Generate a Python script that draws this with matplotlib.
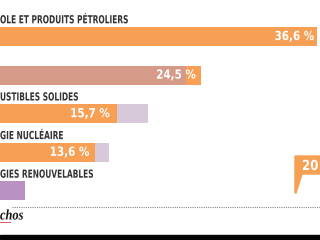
import matplotlib
matplotlib.use("Agg")
import matplotlib.pyplot as plt
from matplotlib.patches import Polygon, Rectangle
from matplotlib.patheffects import AbstractPathEffect
from matplotlib.transforms import Affine2D

# ---- data (bar lengths read from the frame, in % units) ----
labels = ["OLE ET PRODUITS PÉTROLIERS", "", "USTIBLES SOLIDES",
          "GIE NUCLÉAIRE", "GIES RENOUVELABLES"]
value_texts = ["36,6 %", "24,5 %", "15,7 %", "13,6 %", ""]
current = [36.6, 23.2, 13.5, 11.0, 0.0]      # orange bars
previous = [0.0, 21.5, 17.1, 12.6, 2.9]      # background bars
prev_colors = ["#f7a055", "#d59a88", "#d8c9da", "#d8c9da", "#b991c2"]
callout_text = "20"

ORANGE = "#f7a055"


class Condense(AbstractPathEffect):
    """Horizontally condense a text around a display-x origin."""
    def __init__(self, sx, x0):
        super().__init__()
        self.sx = sx
        self.x0 = x0

    def draw_path(self, renderer, gc, tpath, affine, rgbFace=None):
        t = affine + Affine2D().translate(-self.x0, 0).scale(self.sx, 1).translate(self.x0, 0)
        renderer.draw_path(gc, tpath, t, rgbFace)


fig = plt.figure(figsize=(3.2, 2.4), dpi=100)
ax = fig.add_axes([0, 0, 1, 1])
scale = 317 / 36.6  # px per unit
ax.set_xlim(0, 320 / scale)
y0, dy = 36.5, 38.6
ax.set_ylim((240 - y0) / dy, (0 - y0) / dy)
ax.axis("off")


def px2x(px):
    return px / scale


def py2y(py):
    return (py - y0) / dy


def disp_x(x, y):
    return ax.transData.transform((x, y))[0]


h = 19 / dy
fam = ["DejaVu Sans"]
pads = [3, 5, 7, 6, 5]
for i in range(len(labels)):
    if previous[i] > 0:
        ax.barh(i, previous[i], height=h, color=prev_colors[i], left=0, zorder=1)
    if current[i] > 0:
        ax.barh(i, current[i], height=h, color=ORANGE, zorder=0 if i == 1 else 2)
    if labels[i]:
        ax.text(0, i - 0.42, labels[i], ha="left", va="center",
                fontsize=8.0, color="#333333", family=fam, fontweight="bold",
                path_effects=[Condense(0.67, disp_x(0, i))])
    if value_texts[i]:
        end = max(current[i], previous[i]) if i == 1 else current[i]
        xr = end - px2x(pads[i])
        ax.text(xr, i, value_texts[i], ha="right", va="center",
                fontsize=9, color="white", family=fam, fontweight="bold",
                zorder=3, path_effects=[Condense(0.83, disp_x(xr, i))])

# dotted separator line
ax.plot([px2x(12), px2x(320)], [py2y(207)] * 2, color="#888888",
        linestyle=(0, (1, 1)), linewidth=0.8)

# logo
ax.text(px2x(0), py2y(216), "chos", ha="left", va="center",
        fontsize=10.5, color="#111111", family="Liberation Serif",
        fontweight="bold", style="italic",
        path_effects=[Condense(0.85, disp_x(0, 0))])
ax.plot([px2x(0), px2x(10)], [py2y(222)] * 2, color="#d04040", linewidth=0.6)

# callout
ax.add_patch(Polygon([(px2x(295), py2y(156)), (px2x(321), py2y(156)),
                      (px2x(321), py2y(174)), (px2x(302), py2y(174)),
                      (px2x(296), py2y(193)), (px2x(295), py2y(193))],
                     closed=True, color="#f5a053", zorder=4))
ax.text(px2x(302), py2y(166), callout_text, ha="left", va="center",
        fontsize=10, color="white", family=fam, fontweight="bold",
        zorder=5, path_effects=[Condense(0.85, disp_x(px2x(302), 0))])

# black band at bottom
ax.add_patch(Rectangle((0, py2y(235)), px2x(320), py2y(240) - py2y(235),
                       color="#050505", zorder=6, clip_on=False))

fig.savefig("out.png", dpi=100, facecolor="white")
